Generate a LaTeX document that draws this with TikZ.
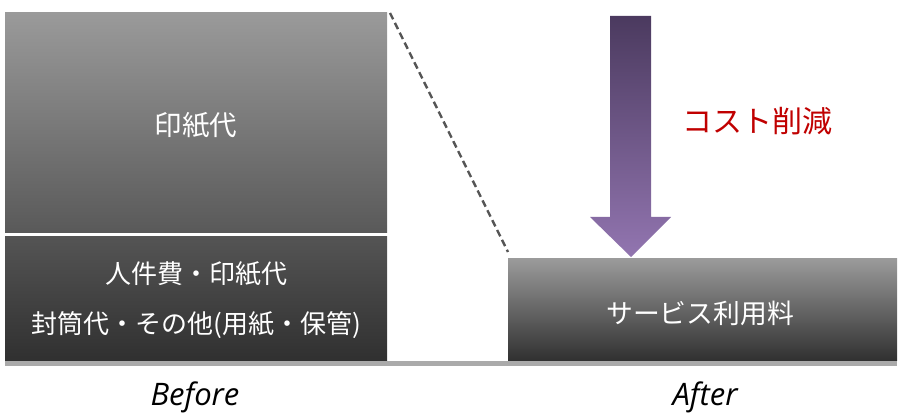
\documentclass[tikz,border=0pt]{standalone}
\usepackage{fontspec}
\setmainfont{Open Sans}
\newfontfamily\jp{Noto Sans CJK JP}
\definecolor{boxtop}{HTML}{9A9A9A}
\definecolor{boxmid}{HTML}{595959}
\definecolor{boxlow}{HTML}{545454}
\definecolor{boxbot}{HTML}{303030}
\definecolor{arrtop}{HTML}{4B3A5F}
\definecolor{arrbot}{HTML}{9275B0}
\definecolor{cutred}{HTML}{C00000}
\definecolor{baseg}{HTML}{AAAAAA}
\definecolor{dashg}{HTML}{555555}
\begin{document}
\begin{tikzpicture}[x=1pt,y=1pt,
  bar/.style={rectangle,inner sep=0pt,outer sep=0pt,draw=none,anchor=south west},
  wtext/.style={text=white,font=\jp\fontsize{26}{30}\selectfont,inner sep=0pt},
  lab/.style={font=\itshape\fontsize{31}{36}\selectfont,inner sep=0pt}]
\useasboundingbox (0,0) rectangle (900,420);
% baseline
\fill[baseg] (5,54) rectangle (897,59);
% before boxes
\node[bar,minimum width=382pt,minimum height=220pt,top color=boxtop,bottom color=boxmid] (paper) at (5,187) {};
\node[bar,minimum width=382pt,minimum height=124pt,top color=boxlow,bottom color=boxbot] (other) at (5,59) {};
% after box
\node[bar,minimum width=389pt,minimum height=102pt,top color=boxtop,bottom color=boxbot] (service) at (508,59) {};
% dashed connector
\coordinate (dA) at (390,407);
\coordinate (dB) at (508,168);
\draw[dashg,line width=2.4pt,dash pattern=on 7pt off 4pt] (dA) -- (dB);
% arrow
\shade[top color=arrtop,bottom color=arrbot]
  (610,404) -- (651,404) -- (651,203) -- (671,203) -- (631,163) -- (590,203) -- (610,203) -- cycle;
% texts
\node[wtext,font=\jp\fontsize{27.5}{30}\selectfont] (t1) at (196,295) {印紙代};
\node[wtext] (t2) at (196,146) {人件費・印紙代};
\node[wtext] (t3) at (196,95) {封筒代・その他(用紙・保管)};
\node[wtext,font=\jp\fontsize{26.8}{30}\selectfont] (t4) at (700,107) {サービス利用料};
\node[text=cutred,font=\jp\fontsize{30}{34}\selectfont,inner sep=0pt] (cut) at (757,299) {コスト削減};
\node[lab] (before) at (195,23) {Before};
\node[lab] (after) at (705,23) {After};
\end{tikzpicture}
\end{document}
